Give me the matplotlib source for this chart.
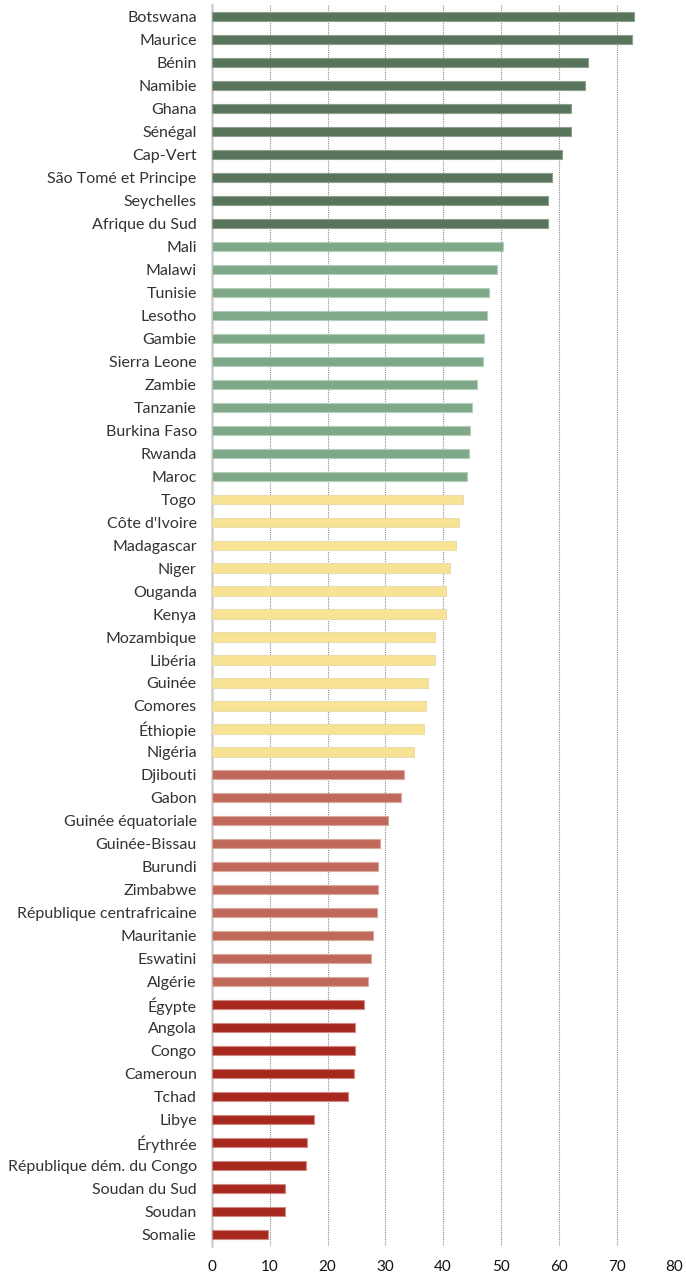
import matplotlib
matplotlib.use("Agg")
import matplotlib.pyplot as plt

countries = [
    "Botswana", "Maurice", "Bénin", "Namibie", "Ghana", "Sénégal", "Cap-Vert",
    "São Tomé et Principe", "Seychelles", "Afrique du Sud",
    "Mali", "Malawi", "Tunisie", "Lesotho", "Gambie", "Sierra Leone", "Zambie",
    "Tanzanie", "Burkina Faso", "Rwanda", "Maroc",
    "Togo", "Côte d'Ivoire", "Madagascar", "Niger", "Ouganda", "Kenya",
    "Mozambique", "Libéria", "Guinée", "Comores", "Éthiopie", "Nigéria",
    "Djibouti", "Gabon", "Guinée équatoriale", "Guinée-Bissau", "Burundi",
    "Zimbabwe", "République centrafricaine", "Mauritanie", "Eswatini", "Algérie",
    "Égypte", "Angola", "Congo", "Cameroun", "Tchad", "Libye", "Érythrée",
    "République dém. du Congo", "Soudan du Sud", "Soudan", "Somalie",
]
scores = [
    73.0, 72.6, 65.0, 64.6, 62.2, 62.1, 60.5, 58.8, 58.1, 58.1,
    50.4, 49.3, 48.0, 47.5, 47.1, 46.9, 45.9, 45.0, 44.6, 44.4, 44.1,
    43.4, 42.8, 42.2, 41.2, 40.5, 40.5, 38.6, 38.6, 37.4, 37.1, 36.7, 35.0,
    33.3, 32.7, 30.4, 29.1, 28.8, 28.7, 28.5, 27.9, 27.5, 27.0,
    26.3, 24.8, 24.7, 24.5, 23.5, 17.6, 16.5, 16.3, 12.7, 12.7, 9.7,
]
# group index per country (0 = best ... 4 = worst)
groups = [0] * 10 + [1] * 11 + [2] * 12 + [3] * 10 + [4] * 11
group_colors = ["#58745a", "#7fa889", "#f8e394", "#c0695a", "#a6281f"]
edge_colors = ["#8ea08f", "#b5cdb9", "#e9dcae", "#d9a89f", "#cf8a84"]
xticks = [0, 10, 20, 30, 40, 50, 60, 70, 80]

fig = plt.figure(figsize=(6.86, 12.74), dpi=100)
ax = fig.add_axes([0.309, 0.022, 0.674, 0.974])

ypos = list(range(len(countries)))
ax.barh(ypos, scores, height=0.4,
        color=[group_colors[g] for g in groups],
        edgecolor=[edge_colors[g] for g in groups], linewidth=0.8, zorder=2)

ax.set_xlim(0, 80)
ax.set_ylim(len(countries) - 0.5, -0.5)
ax.set_xticks(xticks)
ax.set_yticks(ypos)
ax.set_yticklabels(countries, family="Lato", fontsize=11.5, color="#333333")
ax.set_xticklabels([str(t) for t in xticks], family="Lato", fontsize=11, color="#111111")
ax.tick_params(axis="y", length=0, pad=11)
ax.tick_params(axis="x", length=0, pad=10)

ax.grid(axis="x", color="#8a8a8a", linestyle=(0, (1, 1)), linewidth=0.8)
ax.set_axisbelow(True)
for side in ["top", "right", "bottom"]:
    ax.spines[side].set_visible(False)
ax.spines["left"].set_color("#cfcfcf")
ax.spines["left"].set_linewidth(1.8)
ax.spines["left"].set_zorder(1)

fig.savefig("out.png", dpi=100)
